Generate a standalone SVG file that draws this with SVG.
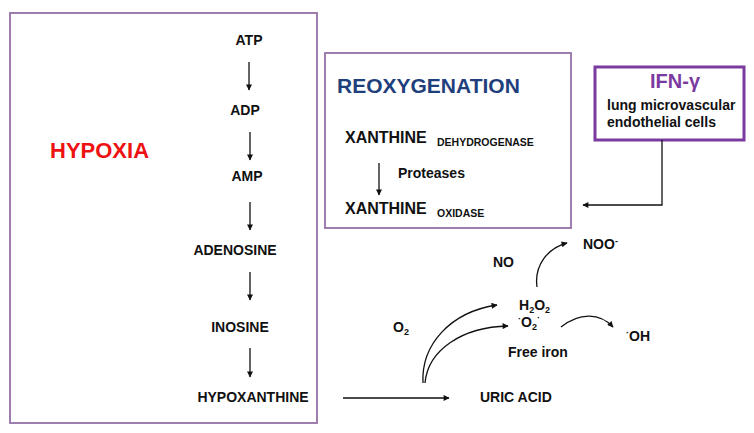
<svg xmlns="http://www.w3.org/2000/svg" width="754" height="433" viewBox="0 0 754 433">
<defs>
<marker id="ah" viewBox="0 0 10 10" refX="9" refY="5" markerWidth="7" markerHeight="6" markerUnits="userSpaceOnUse" orient="auto">
<path d="M0,0 L10,5 L0,10 z" fill="#111"/>
</marker>
<style>
text{font-family:"Liberation Sans",Arial,sans-serif;font-weight:bold;fill:#111}
.t{font-size:14px}
.c{text-anchor:middle}
.box{fill:#fff;stroke:#9470a4;stroke-width:1.8}
.ln{fill:none;stroke:#111;stroke-width:1.3;marker-end:url(#ah)}
</style>
</defs>
<rect width="754" height="433" fill="#fff"/>
<g id="hypoxia">
<rect class="box" x="10" y="13" width="307" height="410"/>
<text x="50" y="158" style="font-size:22px;fill:#ee1111">HYPOXIA</text>
</g>
<g id="atp"><text class="t c" x="249" y="45">ATP</text></g>
<g id="adp"><text class="t c" x="245" y="115">ADP</text></g>
<g id="amp"><text class="t c" x="247" y="181">AMP</text></g>
<g id="adenosine"><text class="t c" x="235" y="255">ADENOSINE</text></g>
<g id="inosine"><text class="t c" x="240" y="332">INOSINE</text></g>
<g id="hypoxanthine"><text class="t c" x="253" y="402">HYPOXANTHINE</text></g>
<g id="reoxygenation">
<rect class="box" x="325" y="53" width="246" height="175"/>
<text x="337" y="93" style="font-size:21px;fill:#1f3f7c">REOXYGENATION</text>
<text x="345" y="143" style="font-size:16px">XANTHINE</text>
<text x="437" y="146" style="font-size:10.5px">DEHYDROGENASE</text>
<text class="t" x="398" y="178">Proteases</text>
<text x="345" y="214" style="font-size:16px">XANTHINE</text>
<text x="437" y="217" style="font-size:10.5px">OXIDASE</text>
</g>
<g id="ifn">
<rect x="595" y="67" width="149" height="73" fill="#fff" stroke="#7a3aa0" stroke-width="3"/>
<text class="c" x="675" y="88" style="font-size:20px;fill:#7a3aa0">IFN-γ</text>
<text class="t" x="607" y="110">lung microvascular</text>
<text class="t" x="607" y="127">endothelial cells</text>
</g>
<g id="uric-acid"><text class="t" x="480" y="402">URIC ACID</text></g>
<g id="o2"><text class="t" x="393" y="332">O<tspan dy="3" style="font-size:9px">2</tspan></text></g>
<g id="h2o2"><text class="t" x="519" y="310">H<tspan dy="3" style="font-size:9px">2</tspan><tspan dy="-3">O</tspan><tspan dy="3" style="font-size:9px">2</tspan></text></g>
<g id="superoxide"><text class="t" x="518" y="327"><tspan dy="-5" style="font-size:9px">·</tspan><tspan dy="5">O</tspan><tspan dy="3" style="font-size:9px">2</tspan><tspan dy="-9" style="font-size:9px">·</tspan></text></g>
<g id="free-iron"><text class="t" x="508" y="357">Free iron</text></g>
<g id="no"><text class="t" x="493" y="267">NO</text></g>
<g id="noo"><text class="t" x="583" y="249">NOO<tspan dy="-5" style="font-size:9px">-</tspan></text></g>
<g id="oh"><text class="t" x="626" y="341"><tspan dy="-5" style="font-size:9px">·</tspan><tspan dy="5">OH</tspan></text></g>
<g id="connectors">
<line class="ln" x1="249" y1="62" x2="249" y2="90"/>
<line class="ln" x1="250" y1="132" x2="250" y2="160"/>
<line class="ln" x1="250" y1="202" x2="250" y2="230"/>
<line class="ln" x1="250" y1="272" x2="250" y2="300"/>
<line class="ln" x1="250" y1="348" x2="250" y2="377"/>
<line class="ln" x1="379" y1="163" x2="379" y2="195"/>
<polyline class="ln" points="662,140 662,205 583,205"/>
<line class="ln" x1="343" y1="398" x2="449" y2="398"/>
<path class="ln" d="M423,383 C421,345 450,312 497,305"/>
<path class="ln" d="M425,383 C428,350 462,327 508,326"/>
<path class="ln" d="M537,287 C534,265 548,248 567,243"/>
<path class="ln" d="M561,327 C580,312 600,313 613,327"/>
</g>
</svg>
